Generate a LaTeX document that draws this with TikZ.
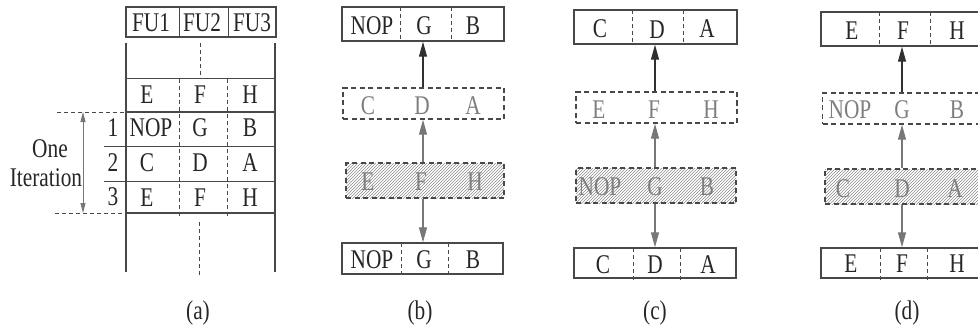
\documentclass[tikz,border=0pt]{standalone}
\usepackage{fontspec}
\setmainfont{Liberation Serif}[FakeStretch=0.79]
\usetikzlibrary{arrows.meta,patterns}
\definecolor{lc}{HTML}{484848}
\definecolor{tc}{HTML}{262626}
\definecolor{gc}{HTML}{7E7E7E}
\definecolor{ac}{HTML}{777777}
\definecolor{dc}{HTML}{303030}
\begin{document}
\begin{tikzpicture}[x=1pt,y=-1pt,
  txt/.style={font=\fontsize{27}{27}\selectfont, text=tc, inner sep=0pt, anchor=center},
  gtxt/.style={txt, text=gc},
  boxbase/.style={inner sep=0pt, line width=1.4pt, draw=lc},
  solidbox/.style={boxbase},
  dashbox/.style={boxbase, dash pattern=on 5pt off 3.5pt},
  hatchbox/.style={dashbox, pattern=north east lines, pattern color=black!45},
  divider/.style={draw=lc, line width=0.8pt, dash pattern=on 4pt off 3pt},
  thinline/.style={draw=lc, line width=1pt},
  thickline/.style={draw=lc, line width=2.6pt},
  darrow/.style={draw=dc, line width=1.2pt, -{Triangle[length=15pt,width=8pt]}},
  garrow/.style={draw=ac, line width=1.2pt, -{Triangle[length=15pt,width=8pt]}},
  iterarrow/.style={draw=ac, line width=1pt, {Triangle[length=10pt,width=5pt]}-{Triangle[length=10pt,width=5pt]}},
  captxt/.style={txt}
]
\useasboundingbox (0,0) rectangle (978,329);
\clip (0,0) rectangle (978,329);

% ---------------- (a) ----------------
\node[solidbox, minimum width=150pt, minimum height=30pt] (hdr) at (201,22) {};
\draw[thinline] (179,7) -- (179,37);
\draw[thinline] (228,7) -- (228,37);
\node[txt] (fu1) at (151,23) {FU1};
\node[txt] (fu2) at (202,23) {FU2};
\node[txt] (fu3) at (252,23) {FU3};

\draw[thickline] (126,43) -- (126,272);
\draw[thickline] (275,43) -- (275,272);
\draw[thinline] (126,79) -- (275,79);
\draw[thickline] (126,112) -- (275,112);
\draw[thinline] (104,146) -- (275,146);
\draw[thinline] (104,181) -- (275,181);
\draw[thickline] (126,213) -- (275,213);
\draw[divider] (200,43) -- (200,79);
\draw[divider] (199,222) -- (199,276);
\draw[divider] (179,79) -- (179,216);
\draw[divider] (227,79) -- (227,216);

\node[txt] (a0e) at (147,95) {E};
\node[txt] (a0f) at (200,95) {F};
\node[txt] (a0h) at (250,95) {H};
\node[txt] (a1n) at (151,128) {NOP};
\node[txt] (a1g) at (200,128) {G};
\node[txt] (a1b) at (250,128) {B};
\node[txt] (a2c) at (147,163) {C};
\node[txt] (a2d) at (200,163) {D};
\node[txt] (a2a) at (250,163) {A};
\node[txt] (a3e) at (147,198) {E};
\node[txt] (a3f) at (200,198) {F};
\node[txt] (a3h) at (250,198) {H};
\node[txt] (n1) at (113,128) {1};
\node[txt] (n2) at (113,163) {2};
\node[txt] (n3) at (113,197) {3};

\draw[divider] (57,112) -- (126,112);
\draw[divider] (55,213) -- (126,213);
\coordinate (itTop) at (83,112);
\coordinate (itBot) at (83,213);
\draw[iterarrow] (itTop) -- (itBot);
\node[txt] (one) at (50,149) {One};
\node[txt] (iter) at (46,178) {Iteration};
\node[captxt] (capa) at (198,313) {(a)};

% ---------------- (b) ----------------
\node[solidbox, minimum width=162pt, minimum height=34pt] (b1) at (423,24) {};
\node[dashbox, minimum width=161pt, minimum height=31pt] (b2) at (423.5,103.5) {};
\node[hatchbox, minimum width=158pt, minimum height=35pt] (b3) at (425,180.5) {};
\node[solidbox, minimum width=161pt, minimum height=31pt] (b4) at (422.5,258.5) {};
\draw[divider] (400,7) -- (400,41);
\draw[divider] (451,7) -- (451,41);
\draw[divider] (401,243) -- (401,276);
\draw[divider] (448,243) -- (448,276);
\node[txt] at (372,26) {NOP};
\node[txt] at (424,26) {G};
\node[txt] at (473,26) {B};
\node[gtxt] at (368,106) {C};
\node[gtxt] at (422,106) {D};
\node[gtxt] at (473,106) {A};
\node[gtxt] at (368,182) {E};
\node[gtxt] at (421,182) {F};
\node[gtxt] at (475,182) {H};
\node[txt] at (372,260) {NOP};
\node[txt] at (424,260) {G};
\node[txt] at (473,260) {B};
\draw[darrow] (b2.north -| 423,0) -- (b1.south -| 423,0);
\draw[garrow] (b3.north -| 423,0) -- (b2.south -| 423,0);
\draw[garrow] (b3.south -| 423,0) -- (b4.north -| 423,0);
\node[captxt] (capb) at (420,313) {(b)};

% ---------------- (c) ----------------
\node[solidbox, minimum width=163pt, minimum height=34pt] (c1) at (655.5,27) {};
\node[dashbox, minimum width=161pt, minimum height=31pt] (c2) at (656.5,107.5) {};
\node[hatchbox, minimum width=160pt, minimum height=35pt] (c3) at (656,185.5) {};
\node[solidbox, minimum width=162pt, minimum height=30pt] (c4) at (655,263) {};
\draw[divider] (632,10) -- (632,44);
\draw[divider] (683,10) -- (683,44);
\draw[divider] (633,248) -- (633,280);
\draw[divider] (680,248) -- (680,280);
\node[txt] at (600,29) {C};
\node[txt] at (657,30) {D};
\node[txt] at (707,29) {A};
\node[gtxt] at (599,110) {E};
\node[gtxt] at (654,110) {F};
\node[gtxt] at (711,110) {H};
\node[gtxt] at (600,187) {NOP};
\node[gtxt] at (655,187) {G};
\node[gtxt] at (707,187) {B};
\node[txt] at (603,265) {C};
\node[txt] at (655,265) {D};
\node[txt] at (708,265) {A};
\draw[darrow] (c2.north -| 655,0) -- (c1.south -| 655,0);
\draw[garrow] (c3.north -| 655,0) -- (c2.south -| 655,0);
\draw[garrow] (c3.south -| 655,0) -- (c4.north -| 655,0);
\node[captxt] (capc) at (655,313) {(c)};

% ---------------- (d) ----------------
\node[solidbox, minimum width=162pt, minimum height=34pt] (d1) at (902,29) {};
\node[dashbox, minimum width=161pt, minimum height=31pt] (d2) at (903,108.5) {};
\node[hatchbox, minimum width=160pt, minimum height=35pt] (d3) at (905,186.5) {};
\node[solidbox, minimum width=162pt, minimum height=30pt] (d4) at (902,263) {};
\draw[divider] (879,12) -- (879,46);
\draw[divider] (930,12) -- (930,46);
\draw[divider] (880,248) -- (880,281);
\draw[divider] (927,248) -- (927,281);
\node[txt] at (852,31) {E};
\node[txt] at (903,31) {F};
\node[txt] at (957,31) {H};
\node[gtxt] at (850,110) {NOP};
\node[gtxt] at (902,110) {G};
\node[gtxt] at (957,110) {B};
\node[gtxt] at (843,189) {C};
\node[gtxt] at (902,189) {D};
\node[gtxt] at (955,189) {A};
\node[txt] at (851,264) {E};
\node[txt] at (902,264) {F};
\node[txt] at (957,264) {H};
\draw[darrow] (d2.north -| 902,0) -- (d1.south -| 902,0);
\draw[garrow] (d3.north -| 902,0) -- (d2.south -| 902,0);
\draw[garrow] (d3.south -| 902,0) -- (d4.north -| 902,0);
\node[captxt] (capd) at (907,313) {(d)};
\end{tikzpicture}
\end{document}
